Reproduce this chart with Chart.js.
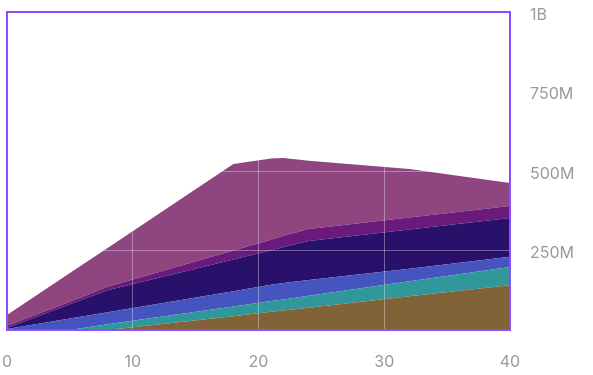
<!DOCTYPE html>
<html>
<head>
<meta charset="utf-8">
<script src="https://cdn.jsdelivr.net/npm/chart.js@4"></script>
<style>
  html, body { margin: 0; padding: 0; background: #fff; }
  #wrap { width: 593px; height: 375px; }
</style>
</head>
<body>
<div id="wrap"><canvas id="areaChart"></canvas></div>
<script>
// x positions shared by every layer (stacking needs matching x values)
const xValues = [0, 5, 8, 18, 21, 22, 24, 32, 40];

// layer values in millions, bottom to top
const brownValues  = [0, 0, 0, 43, 57, 61, 70, 106, 141];
const tealValues   = [0, 0, 18, 31, 34, 35, 38, 47, 57];
const blueValues   = [3, 36, 38, 48, 51, 52, 49, 40, 32];
const navyValues   = [3, 45, 69, 100, 109, 113, 123, 123, 122];
const violetValues = [7, 8, 11, 28, 33, 35, 38, 38, 38];
const mauveValues  = [34, 90, 122, 272, 255, 245, 214, 152, 72];

const yTickLabels = { 0: '', 250: '250M', 500: '500M', 750: '750M', 1000: '1B' };

const layers = [
    { values: brownValues,  color: '#826338' },
    { values: tealValues,   color: '#30989a' },
    { values: blueValues,   color: '#4555c0' },
    { values: navyValues,   color: '#29106a' },
    { values: violetValues, color: '#6a1a7a' },
    { values: mauveValues,  color: '#8e4580' }
];

const frameColor = '#8a4fff';
const gridColor = 'rgba(255, 255, 255, 0.35)';

const datasets = layers.map((layer, i) => ({
    data: layer.values.map((v, j) => ({ x: xValues[j], y: v })),
    backgroundColor: layer.color,
    borderWidth: 0,
    pointRadius: 0,
    tension: 0,
    fill: i === 0 ? 'origin' : '-1'
}));

// purple frame round the plot area, drawn last so grid lines don't cut it
const framePlugin = {
    id: 'frame',
    afterDraw(chart) {
        const { ctx, chartArea } = chart;
        ctx.save();
        ctx.strokeStyle = frameColor;
        ctx.lineWidth = 2;
        ctx.strokeRect(chartArea.left, chartArea.top, chartArea.right - chartArea.left, chartArea.bottom - chartArea.top);
        ctx.restore();
    }
};

const innerGrid = (ctx, lo, hi) => {
    if (!ctx.tick) return 'transparent';
    return (ctx.tick.value === lo || ctx.tick.value === hi) ? 'transparent' : gridColor;
};

// fix the axis boxes so the plot area lands at 7..510 x 12..330
const setPads = (scale, left, top) => {
    scale.paddingLeft = left;
    scale.paddingTop = top;
    scale.paddingRight = 0;
    scale.paddingBottom = 0;
};

new Chart(document.getElementById('areaChart'), {
    type: 'line',
    data: { datasets: datasets },
    plugins: [framePlugin],
    options: {
        responsive: true,
        maintainAspectRatio: false,
        animation: false,
        layout: { autoPadding: false, padding: 0 },
        plugins: { legend: { display: false }, tooltip: { enabled: false } },
        scales: {
            x: {
                type: 'linear',
                min: 0,
                max: 40,
                border: { display: false },
                afterFit: scale => { scale.height = 45; setPads(scale, 7, 0); },
                grid: {
                    z: 1,
                    drawTicks: false,
                    color: ctx => innerGrid(ctx, 0, 40)
                },
                ticks: {
                    stepSize: 10,
                    padding: 23,
                    color: '#9a9a9a',
                    font: { family: 'Inter', size: 16 }
                }
            },
            y: {
                position: 'right',
                stacked: true,
                min: 0,
                max: 1000,
                border: { display: false },
                afterFit: scale => { scale.width = 83; setPads(scale, 0, 12); },
                grid: {
                    z: 1,
                    drawTicks: false,
                    color: ctx => innerGrid(ctx, 0, 1000)
                },
                ticks: {
                    stepSize: 250,
                    padding: 20,
                    labelOffset: 3,
                    color: '#9a9a9a',
                    font: { family: 'Inter', size: 16 },
                    callback: value => yTickLabels[value]
                }
            }
        }
    }
});
</script>
</body>
</html>
